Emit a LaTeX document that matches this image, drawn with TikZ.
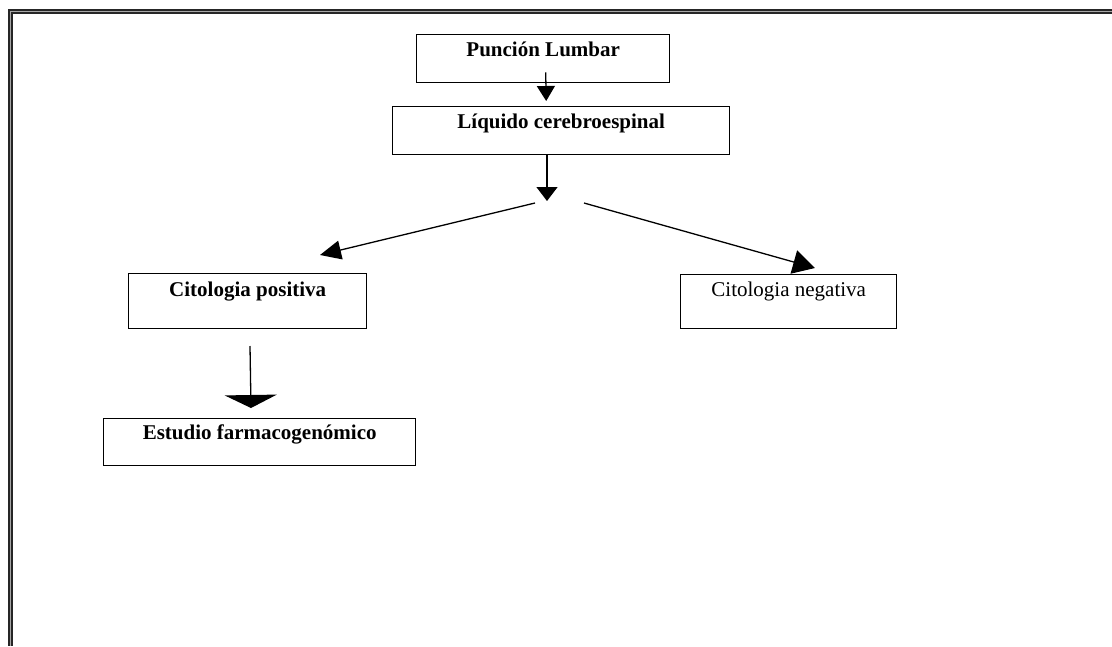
\documentclass[tikz,border=0pt]{standalone}
\usepackage{fontspec}
\setmainfont{Liberation Serif}
\usetikzlibrary{arrows.meta}
\begin{document}
\begin{tikzpicture}[x=1pt,y=-1pt,
  box/.style={draw, line width=1.4pt, inner xsep=0pt, inner ysep=0pt, anchor=north west,
    font=\fontsize{21}{25}\selectfont},
  bbox/.style={box, font=\fontsize{21}{25}\selectfont\bfseries},
]
\useasboundingbox (0,0) rectangle (1112,646);
% frame
\draw[line width=5pt, black!85] (1112,11.5) -- (10.5,11.5) -- (10.5,646);
\draw[line width=1.6pt, gray!70] (1112,11.5) -- (10.5,11.5) -- (10.5,646);

\node[bbox, minimum width=253pt, minimum height=48pt, text height=22pt, text depth=26pt] (pl) at (416,34) {Punción Lumbar};
\node[bbox, minimum width=337pt, minimum height=48pt, text height=22pt, text depth=26pt] (lc) at (392,106) {Líquido cerebroespinal};
\node[bbox, minimum width=238pt, minimum height=55pt, text height=23pt, text depth=32pt] (cp) at (128,273) {Citologia positiva};
\node[box, minimum width=216pt, minimum height=54pt, text height=22pt, text depth=32pt] (cn) at (680,274) {Citologia negativa};
\node[bbox, minimum width=312pt, minimum height=47pt, text height=21pt, text depth=26pt] (ef) at (103,418) {Estudio farmacogenómico};

\coordinate (split) at (547,201);
\coordinate (l0) at (535,203);
\coordinate (r0) at (584,203);
\coordinate (cpt) at (320,255);
\coordinate (cnt) at (815,268);
\coordinate (cps) at (250,346);
\coordinate (eft) at (251,408);

\draw[line width=1.3pt, -{Triangle[length=15pt,width=18pt]}] ([xshift=2.5pt,yshift=11pt]pl.south) -- ([xshift=-15pt,yshift=5pt]lc.north);
\draw[line width=1.3pt, -{Triangle[length=14pt,width=21pt]}] (lc.south -| split) -- (split);
\draw[line width=1.3pt, -{Triangle[length=21pt,width=19pt]}] (l0) -- (cpt);
\draw[line width=1.3pt, -{Triangle[length=22pt,width=24pt]}] (r0) -- (cnt);
\draw[line width=1.3pt, -{Triangle[length=13pt,width=52pt]}] (cps) -- (eft);
\end{tikzpicture}
\end{document}
